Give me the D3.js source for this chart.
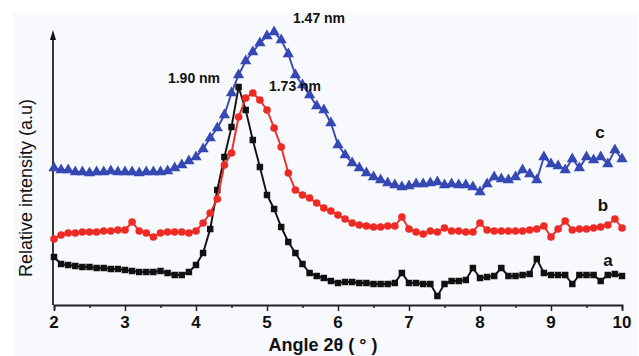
<!DOCTYPE html>
<html lang="en">
<head>
<meta charset="UTF-8">
<title>XRD patterns</title>
<style>
  body { margin: 0; background: #fff; overflow: hidden; }
  svg { display: block; font-family: "Liberation Sans", Arial, sans-serif; }
  .tick-label { font-size: 17px; font-weight: bold; fill: #111; }
  .peak-label { font-size: 14px; font-weight: bold; fill: #111; }
  .curve-label { font-size: 17px; font-weight: bold; fill: #111; }
</style>
</head>
<body>
<svg id="chart" width="639" height="356"></svg>
<script src="https://d3js.org/d3.v7.min.js"></script>
<script>
// 2-theta grid, 0.1 deg step
const angles = d3.range(81).map(i => +(2 + i * 0.1).toFixed(1));

// relative intensities (arbitrary units)
const seriesA = [48, 41, 40, 39, 38, 38, 37, 37, 36, 36,
  35, 34, 33, 33, 33, 34, 32, 30, 30, 33,
  40, 52, 76, 115, 148, 178, 218, 195, 165, 138,
  110, 96, 78, 63, 52, 41, 32, 29, 27, 24,
  22, 23, 23, 22, 22, 21, 21, 21, 22, 32,
  22, 22, 21, 21, 9, 21, 24, 24, 25, 37,
  27, 28, 29, 37, 29, 29, 30, 31, 46, 32,
  30, 30, 30, 21, 30, 30, 30, 24, 30, 31, 29];

const seriesB = [66, 70, 72, 72, 73, 73, 73, 74, 74, 75,
  75, 83, 74, 72, 68, 72, 73, 73, 73, 72,
  74, 82, 92, 106, 140, 152, 188, 207, 212, 205,
  195, 177, 158, 132, 115, 110, 107, 102, 97, 94,
  90, 86, 82, 80, 79, 78, 78, 79, 79, 88,
  76, 73, 71, 74, 73, 77, 74, 74, 73, 73,
  82, 75, 74, 74, 74, 74, 74, 75, 76, 79,
  68, 76, 84, 75, 76, 76, 77, 78, 80, 86, 77];

const seriesC = [137, 135, 135, 133, 133, 132, 133, 133, 134, 133,
  133, 133, 132, 133, 133, 133, 134, 137, 140, 144,
  148, 156, 167, 177, 190, 212, 230, 244, 253, 262,
  269, 273, 265, 251, 230, 220, 210, 199, 195, 182,
  160, 150, 142, 137, 132, 128, 125, 122, 120, 118,
  119, 121, 121, 122, 123, 120, 121, 120, 120, 118,
  113, 121, 128, 126, 125, 128, 135, 131, 125, 148,
  141, 139, 135, 146, 137, 148, 145, 148, 141, 155, 146];

const xTicks = [2, 3, 4, 5, 6, 7, 8, 9, 10];
const peakLabels = [
  { text: "1.47 nm", x: 319, y: 23 },
  { text: "1.90 nm", x: 194, y: 83 },
  { text: "1.73 nm", x: 295, y: 91 }
];

const svg = d3.select("#chart");

svg.append("rect")
  .attr("x", 13).attr("y", 13)
  .attr("width", 624).attr("height", 343)
  .attr("fill", "#f8f9fd");

const x = d3.scaleLinear().domain([2, 10]).range([54, 622]);
const y = d3.scaleLinear().domain([0, 273]).range([305, 32]);

// x axis, ticks pointing down
const xAxis = d3.axisBottom(x)
  .tickValues(d3.range(2, 10.01, 0.5))
  .tickSize(5)
  .tickFormat("");
const gx = svg.append("g")
  .attr("transform", "translate(0,305)")
  .call(xAxis);
gx.select(".domain").attr("stroke", "#222").attr("stroke-width", 1.8);
gx.selectAll(".tick line")
  .attr("stroke", "#222").attr("stroke-width", 1.5)
  .attr("y2", d => Number.isInteger(d) ? 6 : 3);

svg.append("g").selectAll("text")
  .data(xTicks)
  .join("text")
  .attr("class", "tick-label")
  .attr("x", d => x(d))
  .attr("y", 328)
  .attr("text-anchor", "middle")
  .text(d => d);

// y axis with arrow
svg.append("line")
  .attr("x1", 53).attr("x2", 53)
  .attr("y1", 305).attr("y2", 36)
  .attr("stroke", "#222").attr("stroke-width", 1.8);
svg.append("path")
  .attr("d", "M53,30 L50,40 L56,40 Z")
  .attr("fill", "#111");

svg.append("text")
  .attr("x", 323).attr("y", 351)
  .attr("text-anchor", "middle")
  .style("font-size", "18px").style("font-weight", "bold").attr("fill", "#111")
  .text("Angle 2\u03b8 ( \u00b0 )");

svg.append("text")
  .attr("transform", "translate(32,188) rotate(-90)")
  .attr("text-anchor", "middle")
  .style("font-size", "18px").attr("fill", "#111")
  .text("Relative intensity (a.u)");

const line = d3.line()
  .x((d, i) => x(angles[i]))
  .y(d => y(d));

const series = [
  { values: seriesA, color: "#111111", shape: d3.symbolSquare, size: 42, name: "a" },
  { values: seriesB, color: "#ee2a25", shape: d3.symbolCircle, size: 46, name: "b" },
  { values: seriesC, color: "#3648b4", shape: d3.symbolTriangle, size: 55, name: "c" }
];

series.forEach(s => {
  svg.append("path")
    .datum(s.values)
    .attr("fill", "none")
    .attr("stroke", s.color)
    .attr("stroke-width", 1.9)
    .attr("d", line);
  svg.append("g").selectAll("path")
    .data(s.values)
    .join("path")
    .attr("transform", (d, i) => `translate(${x(angles[i])},${y(d)})`)
    .attr("d", d3.symbol().type(s.shape).size(s.size))
    .attr("fill", s.color);
});

const curveLabels = [
  { text: "a", x: 608, y: 266 },
  { text: "b", x: 603, y: 211 },
  { text: "c", x: 600, y: 138 }
];
svg.append("g").selectAll("text")
  .data(curveLabels)
  .join("text")
  .attr("class", "curve-label")
  .attr("x", d => d.x).attr("y", d => d.y)
  .attr("text-anchor", "middle")
  .text(d => d.text);

svg.append("g").selectAll("text")
  .data(peakLabels)
  .join("text")
  .attr("class", "peak-label")
  .attr("x", d => d.x).attr("y", d => d.y)
  .attr("text-anchor", "middle")
  .text(d => d.text);
</script>
</body>
</html>
